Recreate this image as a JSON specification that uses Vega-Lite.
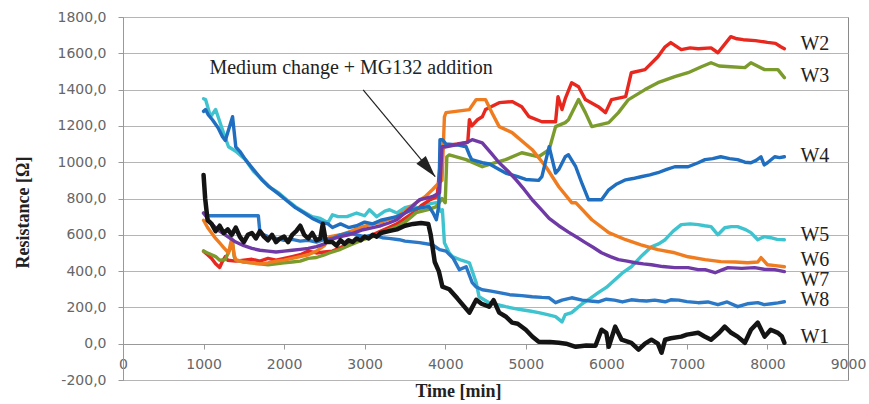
{
"$schema": "https://vega.github.io/schema/vega-lite/v6.json",
"autosize": "none",
"width": 725,
"height": 363,
"padding": {"left": 123, "top": 17, "right": 21, "bottom": 24},
"background": "white",
"config": {"view": {"stroke": "#8a8a8a", "strokeWidth": 1}},
"datasets": {
"series": [
{"s":"W5","t":1000,"r":1350},{"s":"W5","t":1025,"r":1345},{"s":"W5","t":1087,"r":1251},{"s":"W5","t":1150,"r":1290},{"s":"W5","t":1235,"r":1179},{"s":"W5","t":1310,"r":1085},{"s":"W5","t":1400,"r":1060},{"s":"W5","t":1520,"r":1014},{"s":"W5","t":1620,"r":950},{"s":"W5","t":1730,"r":903},{"s":"W5","t":1830,"r":860},{"s":"W5","t":1930,"r":832},{"s":"W5","t":2040,"r":790},{"s":"W5","t":2140,"r":755},{"s":"W5","t":2250,"r":725},{"s":"W5","t":2350,"r":700},{"s":"W5","t":2450,"r":690},{"s":"W5","t":2545,"r":667},{"s":"W5","t":2600,"r":710},{"s":"W5","t":2670,"r":700},{"s":"W5","t":2780,"r":700},{"s":"W5","t":2900,"r":720},{"s":"W5","t":3000,"r":705},{"s":"W5","t":3060,"r":738},{"s":"W5","t":3150,"r":700},{"s":"W5","t":3250,"r":730},{"s":"W5","t":3310,"r":738},{"s":"W5","t":3400,"r":720},{"s":"W5","t":3500,"r":750},{"s":"W5","t":3600,"r":760},{"s":"W5","t":3700,"r":740},{"s":"W5","t":3800,"r":770},{"s":"W5","t":3890,"r":777},{"s":"W5","t":3940,"r":730},{"s":"W5","t":3965,"r":738},{"s":"W5","t":3990,"r":556},{"s":"W5","t":4050,"r":500},{"s":"W5","t":4090,"r":480},{"s":"W5","t":4200,"r":460},{"s":"W5","t":4300,"r":446},{"s":"W5","t":4385,"r":336},{"s":"W5","t":4420,"r":259},{"s":"W5","t":4545,"r":226},{"s":"W5","t":4650,"r":215},{"s":"W5","t":4750,"r":204},{"s":"W5","t":4850,"r":195},{"s":"W5","t":4950,"r":187},{"s":"W5","t":5050,"r":180},{"s":"W5","t":5160,"r":171},{"s":"W5","t":5270,"r":160},{"s":"W5","t":5370,"r":149},{"s":"W5","t":5450,"r":120},{"s":"W5","t":5490,"r":160},{"s":"W5","t":5570,"r":171},{"s":"W5","t":5700,"r":220},{"s":"W5","t":5800,"r":250},{"s":"W5","t":5900,"r":281},{"s":"W5","t":6000,"r":310},{"s":"W5","t":6100,"r":350},{"s":"W5","t":6200,"r":390},{"s":"W5","t":6310,"r":424},{"s":"W5","t":6430,"r":480},{"s":"W5","t":6560,"r":534},{"s":"W5","t":6650,"r":550},{"s":"W5","t":6730,"r":573},{"s":"W5","t":6830,"r":620},{"s":"W5","t":6930,"r":656},{"s":"W5","t":7040,"r":660},{"s":"W5","t":7140,"r":656},{"s":"W5","t":7220,"r":650},{"s":"W5","t":7300,"r":645},{"s":"W5","t":7385,"r":600},{"s":"W5","t":7470,"r":639},{"s":"W5","t":7550,"r":645},{"s":"W5","t":7630,"r":645},{"s":"W5","t":7720,"r":630},{"s":"W5","t":7795,"r":612},{"s":"W5","t":7880,"r":573},{"s":"W5","t":7960,"r":590},{"s":"W5","t":8040,"r":584},{"s":"W5","t":8120,"r":575},{"s":"W5","t":8210,"r":573},
{"s":"W2","t":1000,"r":510},{"s":"W2","t":1050,"r":490},{"s":"W2","t":1100,"r":470},{"s":"W2","t":1150,"r":440},{"s":"W2","t":1200,"r":420},{"s":"W2","t":1230,"r":450},{"s":"W2","t":1270,"r":480},{"s":"W2","t":1300,"r":460},{"s":"W2","t":1400,"r":455},{"s":"W2","t":1500,"r":460},{"s":"W2","t":1600,"r":465},{"s":"W2","t":1700,"r":455},{"s":"W2","t":1800,"r":470},{"s":"W2","t":1900,"r":460},{"s":"W2","t":2000,"r":470},{"s":"W2","t":2100,"r":480},{"s":"W2","t":2200,"r":490},{"s":"W2","t":2300,"r":510},{"s":"W2","t":2400,"r":500},{"s":"W2","t":2500,"r":505},{"s":"W2","t":2600,"r":510},{"s":"W2","t":2700,"r":530},{"s":"W2","t":2800,"r":550},{"s":"W2","t":2900,"r":565},{"s":"W2","t":3000,"r":580},{"s":"W2","t":3100,"r":600},{"s":"W2","t":3200,"r":620},{"s":"W2","t":3300,"r":640},{"s":"W2","t":3400,"r":660},{"s":"W2","t":3500,"r":690},{"s":"W2","t":3600,"r":720},{"s":"W2","t":3700,"r":760},{"s":"W2","t":3800,"r":790},{"s":"W2","t":3900,"r":810},{"s":"W2","t":3950,"r":1060},{"s":"W2","t":4000,"r":1090},{"s":"W2","t":4150,"r":1100},{"s":"W2","t":4280,"r":1110},{"s":"W2","t":4300,"r":1234},{"s":"W2","t":4330,"r":1200},{"s":"W2","t":4400,"r":1234},{"s":"W2","t":4460,"r":1250},{"s":"W2","t":4500,"r":1290},{"s":"W2","t":4670,"r":1328},{"s":"W2","t":4830,"r":1334},{"s":"W2","t":4950,"r":1306},{"s":"W2","t":5040,"r":1251},{"s":"W2","t":5200,"r":1223},{"s":"W2","t":5370,"r":1223},{"s":"W2","t":5400,"r":1361},{"s":"W2","t":5450,"r":1290},{"s":"W2","t":5490,"r":1350},{"s":"W2","t":5570,"r":1438},{"s":"W2","t":5655,"r":1416},{"s":"W2","t":5740,"r":1345},{"s":"W2","t":5900,"r":1306},{"s":"W2","t":5990,"r":1273},{"s":"W2","t":6065,"r":1345},{"s":"W2","t":6240,"r":1361},{"s":"W2","t":6310,"r":1493},{"s":"W2","t":6480,"r":1510},{"s":"W2","t":6640,"r":1581},{"s":"W2","t":6730,"r":1636},{"s":"W2","t":6800,"r":1659},{"s":"W2","t":6930,"r":1620},{"s":"W2","t":7040,"r":1630},{"s":"W2","t":7140,"r":1625},{"s":"W2","t":7300,"r":1630},{"s":"W2","t":7385,"r":1603},{"s":"W2","t":7545,"r":1692},{"s":"W2","t":7620,"r":1680},{"s":"W2","t":7700,"r":1675},{"s":"W2","t":7850,"r":1670},{"s":"W2","t":8000,"r":1660},{"s":"W2","t":8100,"r":1655},{"s":"W2","t":8165,"r":1636},{"s":"W2","t":8210,"r":1625},
{"s":"W3","t":1000,"r":510},{"s":"W3","t":1050,"r":500},{"s":"W3","t":1100,"r":490},{"s":"W3","t":1150,"r":480},{"s":"W3","t":1200,"r":460},{"s":"W3","t":1270,"r":463},{"s":"W3","t":1360,"r":556},{"s":"W3","t":1380,"r":480},{"s":"W3","t":1400,"r":460},{"s":"W3","t":1500,"r":450},{"s":"W3","t":1600,"r":445},{"s":"W3","t":1700,"r":440},{"s":"W3","t":1800,"r":435},{"s":"W3","t":1900,"r":440},{"s":"W3","t":2000,"r":445},{"s":"W3","t":2100,"r":450},{"s":"W3","t":2200,"r":455},{"s":"W3","t":2300,"r":470},{"s":"W3","t":2400,"r":475},{"s":"W3","t":2500,"r":490},{"s":"W3","t":2570,"r":501},{"s":"W3","t":2700,"r":520},{"s":"W3","t":2800,"r":540},{"s":"W3","t":2980,"r":573},{"s":"W3","t":3100,"r":590},{"s":"W3","t":3200,"r":610},{"s":"W3","t":3400,"r":645},{"s":"W3","t":3500,"r":670},{"s":"W3","t":3640,"r":722},{"s":"W3","t":3800,"r":740},{"s":"W3","t":3890,"r":755},{"s":"W3","t":3960,"r":800},{"s":"W3","t":4000,"r":777},{"s":"W3","t":4020,"r":1030},{"s":"W3","t":4050,"r":1040},{"s":"W3","t":4260,"r":1014},{"s":"W3","t":4460,"r":975},{"s":"W3","t":4600,"r":995},{"s":"W3","t":4750,"r":1014},{"s":"W3","t":4950,"r":1052},{"s":"W3","t":5160,"r":1030},{"s":"W3","t":5290,"r":1069},{"s":"W3","t":5370,"r":1196},{"s":"W3","t":5490,"r":1218},{"s":"W3","t":5530,"r":1234},{"s":"W3","t":5655,"r":1345},{"s":"W3","t":5740,"r":1273},{"s":"W3","t":5820,"r":1196},{"s":"W3","t":6030,"r":1218},{"s":"W3","t":6150,"r":1273},{"s":"W3","t":6275,"r":1345},{"s":"W3","t":6480,"r":1400},{"s":"W3","t":6640,"r":1438},{"s":"W3","t":6850,"r":1471},{"s":"W3","t":7015,"r":1493},{"s":"W3","t":7180,"r":1526},{"s":"W3","t":7300,"r":1548},{"s":"W3","t":7400,"r":1530},{"s":"W3","t":7545,"r":1526},{"s":"W3","t":7720,"r":1521},{"s":"W3","t":7795,"r":1548},{"s":"W3","t":7965,"r":1510},{"s":"W3","t":8130,"r":1510},{"s":"W3","t":8210,"r":1466},
{"s":"W6","t":1000,"r":680},{"s":"W6","t":1050,"r":640},{"s":"W6","t":1100,"r":610},{"s":"W6","t":1150,"r":580},{"s":"W6","t":1200,"r":555},{"s":"W6","t":1250,"r":530},{"s":"W6","t":1310,"r":500},{"s":"W6","t":1350,"r":580},{"s":"W6","t":1380,"r":490},{"s":"W6","t":1400,"r":463},{"s":"W6","t":1500,"r":450},{"s":"W6","t":1600,"r":445},{"s":"W6","t":1700,"r":440},{"s":"W6","t":1800,"r":445},{"s":"W6","t":1900,"r":455},{"s":"W6","t":2000,"r":460},{"s":"W6","t":2100,"r":470},{"s":"W6","t":2200,"r":480},{"s":"W6","t":2300,"r":490},{"s":"W6","t":2400,"r":510},{"s":"W6","t":2500,"r":540},{"s":"W6","t":2570,"r":590},{"s":"W6","t":2700,"r":600},{"s":"W6","t":2800,"r":615},{"s":"W6","t":2980,"r":645},{"s":"W6","t":3100,"r":660},{"s":"W6","t":3200,"r":670},{"s":"W6","t":3400,"r":700},{"s":"W6","t":3500,"r":730},{"s":"W6","t":3640,"r":777},{"s":"W6","t":3750,"r":810},{"s":"W6","t":3840,"r":848},{"s":"W6","t":3900,"r":876},{"s":"W6","t":3960,"r":900},{"s":"W6","t":3990,"r":1250},{"s":"W6","t":4010,"r":1273},{"s":"W6","t":4300,"r":1290},{"s":"W6","t":4385,"r":1345},{"s":"W6","t":4500,"r":1345},{"s":"W6","t":4580,"r":1273},{"s":"W6","t":4670,"r":1196},{"s":"W6","t":4830,"r":1163},{"s":"W6","t":5080,"r":1069},{"s":"W6","t":5250,"r":975},{"s":"W6","t":5410,"r":865},{"s":"W6","t":5570,"r":777},{"s":"W6","t":5620,"r":777},{"s":"W6","t":5820,"r":683},{"s":"W6","t":6030,"r":612},{"s":"W6","t":6240,"r":573},{"s":"W6","t":6430,"r":545},{"s":"W6","t":6640,"r":518},{"s":"W6","t":6850,"r":501},{"s":"W6","t":7015,"r":479},{"s":"W6","t":7225,"r":463},{"s":"W6","t":7420,"r":452},{"s":"W6","t":7600,"r":450},{"s":"W6","t":7755,"r":446},{"s":"W6","t":7880,"r":450},{"s":"W6","t":7920,"r":474},{"s":"W6","t":8000,"r":435},{"s":"W6","t":8100,"r":430},{"s":"W6","t":8210,"r":424},
{"s":"W8","t":1000,"r":720},{"s":"W8","t":1060,"r":705},{"s":"W8","t":1680,"r":705},{"s":"W8","t":1700,"r":611},{"s":"W8","t":1750,"r":600},{"s":"W8","t":1800,"r":590},{"s":"W8","t":1900,"r":580},{"s":"W8","t":2000,"r":570},{"s":"W8","t":2100,"r":575},{"s":"W8","t":2200,"r":565},{"s":"W8","t":2300,"r":570},{"s":"W8","t":2400,"r":560},{"s":"W8","t":2500,"r":575},{"s":"W8","t":2600,"r":580},{"s":"W8","t":2700,"r":600},{"s":"W8","t":2800,"r":610},{"s":"W8","t":2900,"r":600},{"s":"W8","t":3000,"r":590},{"s":"W8","t":3100,"r":600},{"s":"W8","t":3220,"r":584},{"s":"W8","t":3300,"r":580},{"s":"W8","t":3430,"r":573},{"s":"W8","t":3500,"r":565},{"s":"W8","t":3680,"r":557},{"s":"W8","t":3840,"r":545},{"s":"W8","t":3930,"r":518},{"s":"W8","t":4010,"r":510},{"s":"W8","t":4100,"r":470},{"s":"W8","t":4175,"r":408},{"s":"W8","t":4260,"r":424},{"s":"W8","t":4335,"r":336},{"s":"W8","t":4380,"r":314},{"s":"W8","t":4460,"r":297},{"s":"W8","t":4570,"r":290},{"s":"W8","t":4670,"r":281},{"s":"W8","t":4800,"r":270},{"s":"W8","t":4950,"r":265},{"s":"W8","t":5080,"r":259},{"s":"W8","t":5200,"r":255},{"s":"W8","t":5290,"r":253},{"s":"W8","t":5370,"r":226},{"s":"W8","t":5450,"r":240},{"s":"W8","t":5570,"r":253},{"s":"W8","t":5700,"r":240},{"s":"W8","t":5800,"r":235},{"s":"W8","t":5900,"r":231},{"s":"W8","t":6000,"r":245},{"s":"W8","t":6100,"r":240},{"s":"W8","t":6200,"r":230},{"s":"W8","t":6310,"r":242},{"s":"W8","t":6400,"r":238},{"s":"W8","t":6500,"r":235},{"s":"W8","t":6600,"r":240},{"s":"W8","t":6730,"r":231},{"s":"W8","t":6800,"r":242},{"s":"W8","t":6900,"r":240},{"s":"W8","t":7000,"r":232},{"s":"W8","t":7140,"r":226},{"s":"W8","t":7260,"r":230},{"s":"W8","t":7385,"r":215},{"s":"W8","t":7500,"r":230},{"s":"W8","t":7630,"r":204},{"s":"W8","t":7750,"r":220},{"s":"W8","t":7880,"r":226},{"s":"W8","t":7960,"r":215},{"s":"W8","t":8050,"r":220},{"s":"W8","t":8130,"r":225},{"s":"W8","t":8210,"r":231},
{"s":"W4","t":1000,"r":1280},{"s":"W4","t":1025,"r":1290},{"s":"W4","t":1060,"r":1260},{"s":"W4","t":1110,"r":1234},{"s":"W4","t":1180,"r":1190},{"s":"W4","t":1235,"r":1140},{"s":"W4","t":1270,"r":1120},{"s":"W4","t":1360,"r":1251},{"s":"W4","t":1400,"r":1085},{"s":"W4","t":1450,"r":1060},{"s":"W4","t":1520,"r":1014},{"s":"W4","t":1600,"r":970},{"s":"W4","t":1730,"r":900},{"s":"W4","t":1800,"r":870},{"s":"W4","t":1930,"r":825},{"s":"W4","t":2000,"r":800},{"s":"W4","t":2140,"r":750},{"s":"W4","t":2250,"r":720},{"s":"W4","t":2350,"r":690},{"s":"W4","t":2450,"r":670},{"s":"W4","t":2545,"r":660},{"s":"W4","t":2600,"r":640},{"s":"W4","t":2700,"r":660},{"s":"W4","t":2800,"r":640},{"s":"W4","t":2900,"r":650},{"s":"W4","t":3000,"r":670},{"s":"W4","t":3100,"r":660},{"s":"W4","t":3200,"r":680},{"s":"W4","t":3300,"r":690},{"s":"W4","t":3400,"r":700},{"s":"W4","t":3500,"r":720},{"s":"W4","t":3600,"r":740},{"s":"W4","t":3700,"r":750},{"s":"W4","t":3800,"r":755},{"s":"W4","t":3850,"r":720},{"s":"W4","t":3890,"r":683},{"s":"W4","t":3920,"r":760},{"s":"W4","t":3935,"r":1124},{"s":"W4","t":3965,"r":1124},{"s":"W4","t":4010,"r":1100},{"s":"W4","t":4150,"r":1095},{"s":"W4","t":4260,"r":1085},{"s":"W4","t":4300,"r":1040},{"s":"W4","t":4330,"r":1014},{"s":"W4","t":4460,"r":997},{"s":"W4","t":4550,"r":990},{"s":"W4","t":4670,"r":960},{"s":"W4","t":4750,"r":940},{"s":"W4","t":4900,"r":920},{"s":"W4","t":5000,"r":905},{"s":"W4","t":5160,"r":900},{"s":"W4","t":5200,"r":920},{"s":"W4","t":5290,"r":1085},{"s":"W4","t":5370,"r":940},{"s":"W4","t":5410,"r":960},{"s":"W4","t":5490,"r":1030},{"s":"W4","t":5530,"r":1041},{"s":"W4","t":5620,"r":975},{"s":"W4","t":5700,"r":880},{"s":"W4","t":5780,"r":793},{"s":"W4","t":5940,"r":793},{"s":"W4","t":6030,"r":848},{"s":"W4","t":6130,"r":880},{"s":"W4","t":6240,"r":903},{"s":"W4","t":6330,"r":910},{"s":"W4","t":6430,"r":920},{"s":"W4","t":6540,"r":930},{"s":"W4","t":6640,"r":942},{"s":"W4","t":6750,"r":960},{"s":"W4","t":6850,"r":975},{"s":"W4","t":7015,"r":975},{"s":"W4","t":7140,"r":997},{"s":"W4","t":7225,"r":1014},{"s":"W4","t":7320,"r":1020},{"s":"W4","t":7420,"r":1030},{"s":"W4","t":7530,"r":1020},{"s":"W4","t":7630,"r":1014},{"s":"W4","t":7720,"r":1000},{"s":"W4","t":7795,"r":997},{"s":"W4","t":7860,"r":1010},{"s":"W4","t":7920,"r":1030},{"s":"W4","t":7960,"r":985},{"s":"W4","t":8000,"r":997},{"s":"W4","t":8090,"r":1030},{"s":"W4","t":8150,"r":1025},{"s":"W4","t":8210,"r":1030},
{"s":"W7","t":1000,"r":720},{"s":"W7","t":1100,"r":660},{"s":"W7","t":1200,"r":620},{"s":"W7","t":1300,"r":590},{"s":"W7","t":1400,"r":560},{"s":"W7","t":1500,"r":540},{"s":"W7","t":1600,"r":525},{"s":"W7","t":1700,"r":515},{"s":"W7","t":1800,"r":510},{"s":"W7","t":1900,"r":505},{"s":"W7","t":2000,"r":510},{"s":"W7","t":2100,"r":515},{"s":"W7","t":2200,"r":520},{"s":"W7","t":2300,"r":525},{"s":"W7","t":2400,"r":535},{"s":"W7","t":2500,"r":550},{"s":"W7","t":2570,"r":573},{"s":"W7","t":2700,"r":590},{"s":"W7","t":2800,"r":600},{"s":"W7","t":2980,"r":628},{"s":"W7","t":3100,"r":640},{"s":"W7","t":3200,"r":650},{"s":"W7","t":3300,"r":665},{"s":"W7","t":3400,"r":683},{"s":"W7","t":3500,"r":720},{"s":"W7","t":3600,"r":760},{"s":"W7","t":3680,"r":793},{"s":"W7","t":3840,"r":810},{"s":"W7","t":3930,"r":832},{"s":"W7","t":3960,"r":1085},{"s":"W7","t":4010,"r":1085},{"s":"W7","t":4260,"r":1107},{"s":"W7","t":4335,"r":1124},{"s":"W7","t":4460,"r":1107},{"s":"W7","t":4570,"r":1050},{"s":"W7","t":4670,"r":997},{"s":"W7","t":4780,"r":950},{"s":"W7","t":4880,"r":903},{"s":"W7","t":4980,"r":850},{"s":"W7","t":5080,"r":793},{"s":"W7","t":5190,"r":740},{"s":"W7","t":5290,"r":690},{"s":"W7","t":5410,"r":650},{"s":"W7","t":5530,"r":615},{"s":"W7","t":5640,"r":585},{"s":"W7","t":5740,"r":557},{"s":"W7","t":5840,"r":530},{"s":"W7","t":5940,"r":501},{"s":"W7","t":6050,"r":480},{"s":"W7","t":6150,"r":463},{"s":"W7","t":6260,"r":455},{"s":"W7","t":6360,"r":446},{"s":"W7","t":6460,"r":440},{"s":"W7","t":6560,"r":435},{"s":"W7","t":6700,"r":425},{"s":"W7","t":6850,"r":419},{"s":"W7","t":7015,"r":419},{"s":"W7","t":7140,"r":408},{"s":"W7","t":7225,"r":408},{"s":"W7","t":7350,"r":391},{"s":"W7","t":7430,"r":405},{"s":"W7","t":7510,"r":419},{"s":"W7","t":7680,"r":415},{"s":"W7","t":7840,"r":419},{"s":"W7","t":7960,"r":410},{"s":"W7","t":8090,"r":408},{"s":"W7","t":8210,"r":397},
{"s":"W1","t":1000,"r":930},{"s":"W1","t":1020,"r":800},{"s":"W1","t":1050,"r":680},{"s":"W1","t":1100,"r":660},{"s":"W1","t":1150,"r":620},{"s":"W1","t":1200,"r":650},{"s":"W1","t":1250,"r":610},{"s":"W1","t":1300,"r":630},{"s":"W1","t":1350,"r":600},{"s":"W1","t":1400,"r":640},{"s":"W1","t":1450,"r":590},{"s":"W1","t":1500,"r":560},{"s":"W1","t":1550,"r":600},{"s":"W1","t":1600,"r":610},{"s":"W1","t":1650,"r":580},{"s":"W1","t":1700,"r":620},{"s":"W1","t":1750,"r":590},{"s":"W1","t":1800,"r":570},{"s":"W1","t":1850,"r":600},{"s":"W1","t":1900,"r":560},{"s":"W1","t":1950,"r":580},{"s":"W1","t":2000,"r":590},{"s":"W1","t":2050,"r":560},{"s":"W1","t":2100,"r":600},{"s":"W1","t":2150,"r":620},{"s":"W1","t":2200,"r":650},{"s":"W1","t":2250,"r":600},{"s":"W1","t":2300,"r":580},{"s":"W1","t":2350,"r":610},{"s":"W1","t":2400,"r":570},{"s":"W1","t":2450,"r":580},{"s":"W1","t":2480,"r":660},{"s":"W1","t":2520,"r":560},{"s":"W1","t":2600,"r":560},{"s":"W1","t":2650,"r":540},{"s":"W1","t":2700,"r":570},{"s":"W1","t":2750,"r":550},{"s":"W1","t":2800,"r":570},{"s":"W1","t":2850,"r":560},{"s":"W1","t":2900,"r":580},{"s":"W1","t":2950,"r":570},{"s":"W1","t":3000,"r":590},{"s":"W1","t":3050,"r":580},{"s":"W1","t":3100,"r":600},{"s":"W1","t":3150,"r":590},{"s":"W1","t":3200,"r":610},{"s":"W1","t":3300,"r":620},{"s":"W1","t":3400,"r":630},{"s":"W1","t":3500,"r":650},{"s":"W1","t":3600,"r":660},{"s":"W1","t":3700,"r":665},{"s":"W1","t":3790,"r":660},{"s":"W1","t":3820,"r":600},{"s":"W1","t":3870,"r":450},{"s":"W1","t":3920,"r":400},{"s":"W1","t":3965,"r":314},{"s":"W1","t":4050,"r":300},{"s":"W1","t":4150,"r":250},{"s":"W1","t":4300,"r":171},{"s":"W1","t":4385,"r":242},{"s":"W1","t":4450,"r":220},{"s":"W1","t":4545,"r":204},{"s":"W1","t":4600,"r":240},{"s":"W1","t":4670,"r":171},{"s":"W1","t":4750,"r":150},{"s":"W1","t":4830,"r":116},{"s":"W1","t":4900,"r":110},{"s":"W1","t":5000,"r":77},{"s":"W1","t":5080,"r":40},{"s":"W1","t":5160,"r":11},{"s":"W1","t":5300,"r":10},{"s":"W1","t":5410,"r":5},{"s":"W1","t":5500,"r":0},{"s":"W1","t":5620,"r":-17},{"s":"W1","t":5750,"r":-10},{"s":"W1","t":5865,"r":-11},{"s":"W1","t":5940,"r":77},{"s":"W1","t":6000,"r":60},{"s":"W1","t":6030,"r":-17},{"s":"W1","t":6110,"r":94},{"s":"W1","t":6190,"r":22},{"s":"W1","t":6310,"r":5},{"s":"W1","t":6400,"r":-33},{"s":"W1","t":6480,"r":0},{"s":"W1","t":6560,"r":22},{"s":"W1","t":6640,"r":0},{"s":"W1","t":6685,"r":-50},{"s":"W1","t":6730,"r":22},{"s":"W1","t":6800,"r":30},{"s":"W1","t":6930,"r":39},{"s":"W1","t":7000,"r":50},{"s":"W1","t":7140,"r":60},{"s":"W1","t":7220,"r":40},{"s":"W1","t":7300,"r":22},{"s":"W1","t":7400,"r":60},{"s":"W1","t":7470,"r":94},{"s":"W1","t":7550,"r":60},{"s":"W1","t":7630,"r":39},{"s":"W1","t":7720,"r":5},{"s":"W1","t":7795,"r":77},{"s":"W1","t":7880,"r":116},{"s":"W1","t":7965,"r":39},{"s":"W1","t":8040,"r":77},{"s":"W1","t":8130,"r":60},{"s":"W1","t":8180,"r":40},{"s":"W1","t":8210,"r":5}
],
"labels": [
{"lab":"W2","t":8410,"r":1650},{"lab":"W3","t":8410,"r":1474},{"lab":"W4","t":8410,"r":1033},{"lab":"W5","t":8410,"r":600},{"lab":"W6","t":8410,"r":463},{"lab":"W7","t":8410,"r":350},{"lab":"W8","t":8410,"r":240},{"lab":"W1","t":8410,"r":36}
],
"note": [{"lab":"Medium change + MG132 addition","t":2832,"r":1521}],
"arrow": [{"t":2981,"r":1399,"t2":3876,"r2":920}],
"head": [{"t":3876,"r":920}]
},
"encoding": {
"x": {"field": "t", "type": "quantitative",
"scale": {"domain": [0, 9000], "nice": false, "zero": false},
"axis": {"values": [0,1000,2000,3000,4000,5000,6000,7000,8000,9000], "format": "d", "offset": -36, "grid": false,
"domainColor": "#999999", "tickColor": "#999999", "tickSize": 5,
"labelFont": "DejaVu Sans", "labelFontSize": 14, "labelColor": "#666666", "labelPadding": 8, "labelFlush": false, "labelOverlap": false,
"title": "Time [min]", "titleFont": "Liberation Serif", "titleFontSize": 18, "titleFontWeight": "bold", "titleColor": "#222222",
"titleX": 335, "titleY": 47, "titleAlign": "center", "titleBaseline": "middle"}},
"y": {"field": "r", "type": "quantitative",
"scale": {"domain": [-200, 1800], "nice": false, "zero": false},
"axis": {"values": [-200,0,200,400,600,800,1000,1200,1400,1600,1800], "grid": true, "gridColor": "#b5b5b5",
"domainColor": "#999999", "tickColor": "#999999", "tickSize": 5,
"labelExpr": "replace(replace(format(datum.value, '.1f'), '.', ','), '−', '-')",
"labelFont": "DejaVu Sans", "labelFontSize": 14, "labelColor": "#666666", "labelPadding": 12, "labelFlush": false, "labelOverlap": false,
"title": "Resistance [Ω]", "titleFont": "Liberation Serif", "titleFontSize": 18, "titleFontWeight": "bold", "titleColor": "#222222",
"titleAngle": -90, "titleX": -100, "titleY": 195, "titleAlign": "center", "titleBaseline": "middle"}}
},
"layer": [
{
"data": {"name": "series"},
"mark": {"type": "line", "interpolate": "linear", "strokeJoin": "round", "strokeCap": "round"},
"encoding": {
"color": {"field": "s", "type": "nominal", "legend": null,
"scale": {"domain": ["W1","W2","W3","W4","W5","W6","W7","W8"],
"range": ["#141414","#e8281f","#7b9b2c","#1f6ec0","#3ec3cf","#f07c20","#6f3aa6","#2a78c6"]}},
"strokeWidth": {"condition": {"test": "datum.s === 'W1'", "value": 4.5}, "value": 3.4}
}
},
{
"data": {"name": "labels"},
"mark": {"type": "text", "align": "left", "baseline": "middle", "font": "Liberation Serif", "fontSize": 20, "color": "#222222"},
"encoding": {"text": {"field": "lab"}}
},
{
"data": {"name": "note"},
"mark": {"type": "text", "align": "center", "baseline": "middle", "font": "Liberation Serif", "fontSize": 20, "color": "#222222"},
"encoding": {"text": {"field": "lab"}}
},
{
"data": {"name": "arrow"},
"mark": {"type": "rule", "color": "#222222", "strokeWidth": 1.2},
"encoding": {"x2": {"field": "t2"}, "y2": {"field": "r2"}}
},
{
"data": {"name": "head"},
"mark": {"type": "point", "filled": true, "shape": "M0,0L-0.28,1L0.28,1Z", "size": 1936, "angle": 140, "color": "#222222", "opacity": 1, "strokeWidth": 0},
"encoding": {}
}
]
}
